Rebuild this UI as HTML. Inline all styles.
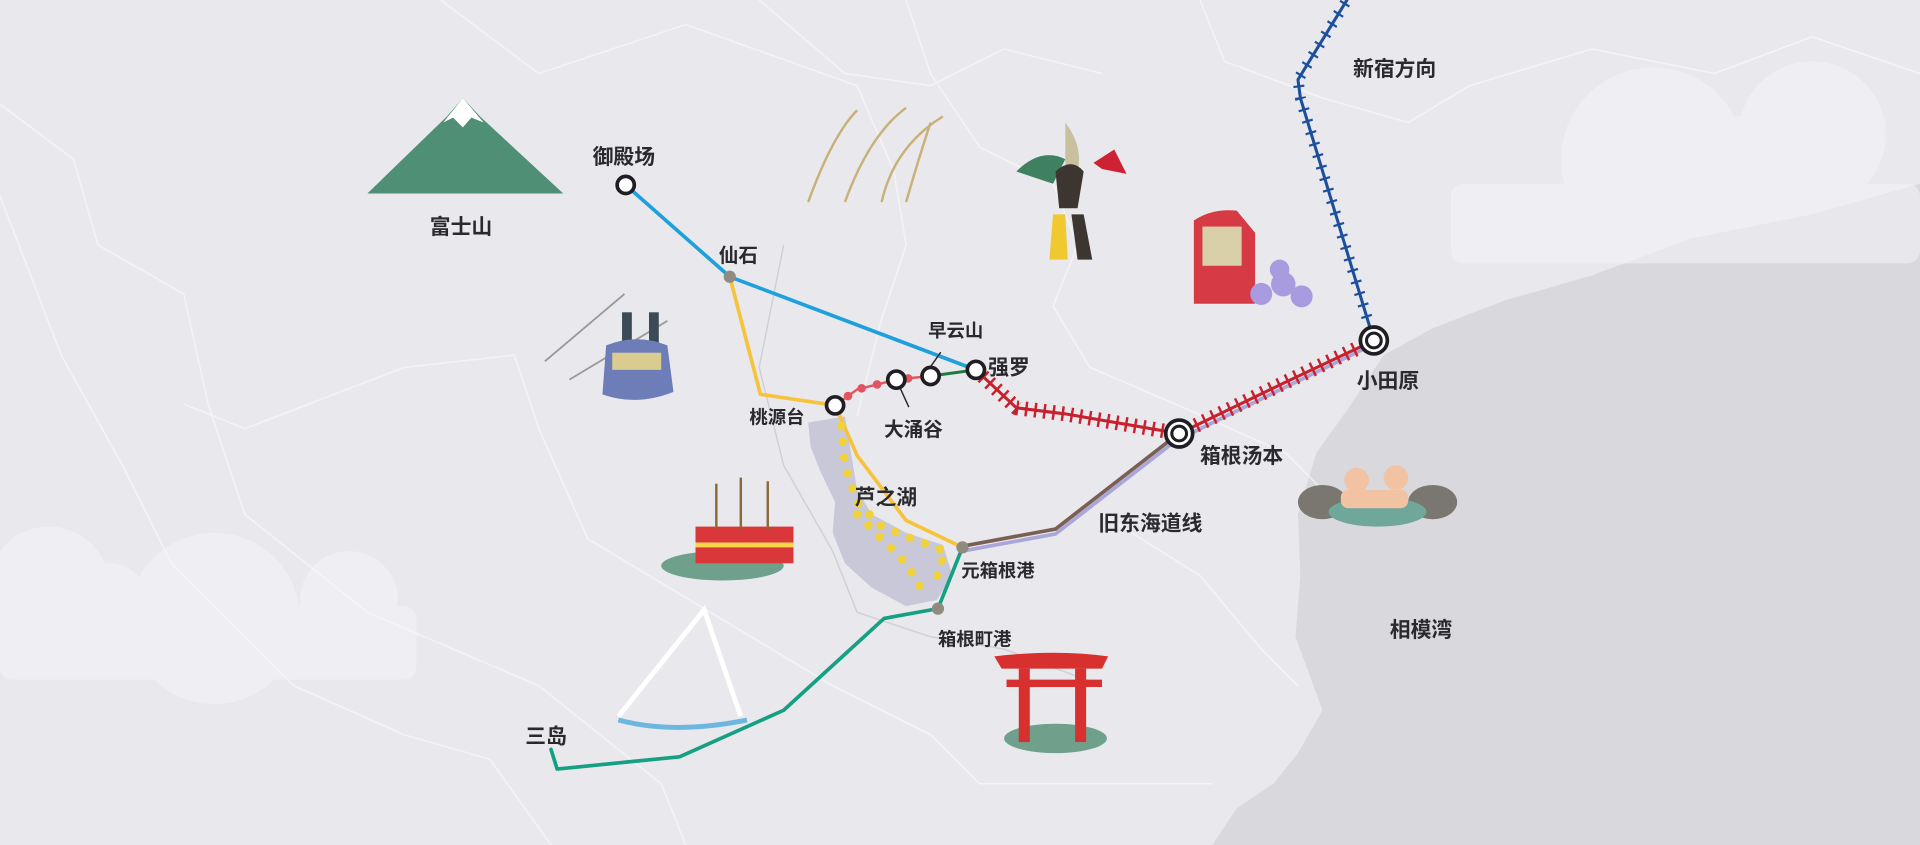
<!DOCTYPE html>
<html><head><meta charset="utf-8"><style>
html,body{margin:0;padding:0;background:#e8e8ec;}
svg{display:block}
text{font-family:"Liberation Sans","Noto Sans CJK SC",sans-serif;fill:#2a2a2e;font-weight:bold}
</style></head><body>
<svg width="1920" height="845" viewBox="0 0 1568 690" xmlns="http://www.w3.org/2000/svg">
<rect width="1568" height="690" fill="#e9e9ed"/>
<!-- sea -->
<path d="M1568,150 L1480,175 1380,195 1300,225 1230,245 1170,268 1130,290 1100,335 1075,370 1060,420 1062,470 1058,520 1080,580 1060,615 1040,640 1010,660 990,690 1568,690Z" fill="#d8d8dd"/>
<!-- clouds -->
<g fill="#f4f4f7" opacity="0.6">
<circle cx="1350" cy="130" r="75"/><circle cx="1480" cy="110" r="60"/><circle cx="1420" cy="130" r="35"/><rect x="1185" y="150" width="383" height="65" rx="10"/>
<circle cx="175" cy="505" r="70"/><circle cx="40" cy="480" r="50"/><circle cx="90" cy="490" r="30"/><circle cx="285" cy="490" r="40"/><rect x="0" y="495" width="340" height="60" rx="10"/>
</g>
<!-- roads -->
<g fill="none" stroke="#f8f8fa" stroke-width="1.3" opacity="0.7" stroke-linejoin="round">
<path d="M0,85 60,130 80,200 150,240 170,330 200,420 300,500 440,560 540,640 560,690"/>
<path d="M0,160 50,290 100,380 140,460 200,520 240,560 330,600 400,620 450,690"/>
<path d="M360,0 440,60 560,20 700,70 730,140 740,200 720,260 700,340"/>
<path d="M740,0 760,60 800,120 860,150 880,200 860,250 890,300 960,330 1050,370 1100,420"/>
<path d="M150,330 200,350 330,300 420,290 440,350 480,440 580,500 680,560 760,600 800,640 990,640"/>
<path d="M980,0 1000,50 1080,80 1150,100 1200,70 1300,40 1400,60 1480,30 1568,60"/>
<path d="M620,0 690,60 760,70 820,40 900,60"/>
<path d="M900,420 980,470 1030,530 1060,560"/>
</g>
<path d="M640,200 620,300 640,380 680,450 700,500 760,520 820,530 900,560" fill="none" stroke="#cfcfd6" stroke-width="1.2"/>
<!-- lake -->
<path d="M660,345 690,340 695,370 700,400 712,420 740,435 770,445 778,470 765,490 740,495 712,480 690,460 680,435 682,410 670,385 662,365Z" fill="#c9c8d9"/>
<!-- lines -->
<g fill="none" stroke-linecap="round" stroke-linejoin="round">
<path d="M511,151 596,226 797,302" stroke="#1ea0dc" stroke-width="3"/>
<path d="M596,226 621,322 682,331" stroke="#f6c33c" stroke-width="3"/>
<path d="M682,331 700,372 740,425 786,447" stroke="#f6c33c" stroke-width="3"/>
<path d="M786,450 862,436 960,360 1050,316 1122,281" stroke="#aaa6d8" stroke-width="3"/>
<path d="M786,446 862,432 960,356" stroke="#7a5f55" stroke-width="3"/>
<path d="M766,497 786,447" stroke="#16a083" stroke-width="3"/>
<path d="M766,497 722,505 640,580 555,618 455,628 450,612" stroke="#16a083" stroke-width="3"/>
<path d="M682,331 700,318 732,310 760,307" stroke="#e05560" stroke-width="2"/>
<path d="M682,331 700,318 732,310 760,307" stroke="#e05560" stroke-width="7" stroke-dasharray="0 13"/>
<path d="M760,307 797,302" stroke="#1f7a3d" stroke-width="2.5"/>
<path d="M797,302 830,333 870,338 963,354 1050,312 1122,278" stroke="#c8202c" stroke-width="2.5"/>
<path d="M797,302 830,333 870,338 963,354 1050,312 1122,278" stroke="#c8202c" stroke-width="12" stroke-dasharray="2 5.5" stroke-linecap="butt"/>
<path d="M1122,278 1062,80 1060,65 1100,0" stroke="#1c4f9c" stroke-width="2.5"/>
<path d="M1122,278 1062,80 1060,65 1100,0" stroke="#1c4f9c" stroke-width="9" stroke-dasharray="1.8 8" stroke-linecap="butt"/>
<path d="M687,348 690,380 700,410 720,430 745,440 772,450 762,480" stroke="#f0d23c" stroke-width="7" stroke-dasharray="0 13"/>
<path d="M700,420 720,440 740,460 755,485" stroke="#f0d23c" stroke-width="7" stroke-dasharray="0 13"/>
<path d="M732,310 742,332 M768,288 756,305" stroke="#2a2a2e" stroke-width="1.2"/>
</g>
<!-- stations -->
<g stroke="#1e1e24" fill="#fff">
<circle cx="511" cy="151" r="7" stroke-width="3"/>
<circle cx="682" cy="331" r="7" stroke-width="3"/>
<circle cx="732" cy="310" r="7" stroke-width="3"/>
<circle cx="760" cy="307" r="7" stroke-width="3"/>
<circle cx="797" cy="302" r="7" stroke-width="3"/>
<circle cx="963" cy="354" r="11" stroke-width="3"/><circle cx="963" cy="354" r="6" stroke-width="2.5"/>
<circle cx="1122" cy="278" r="11" stroke-width="3"/><circle cx="1122" cy="278" r="6" stroke-width="2.5"/>
</g>
<g fill="#8f8b80"><circle cx="596" cy="226" r="5"/><circle cx="786" cy="447" r="5"/><circle cx="766" cy="497" r="5"/></g>
<!-- illustrations -->
<path d="M300,158 365,95 378,80 392,95 460,158Z" fill="#4e8f76"/>
<path d="M362,100 378,80 395,100 385,96 378,104 370,96Z" fill="#fff"/>
<line x1="445" y1="295" x2="510" y2="240" stroke="#999" stroke-width="1.5"/>
<line x1="465" y1="310" x2="545" y2="262" stroke="#999" stroke-width="1.5"/>
<rect x="508" y="255" width="8" height="30" fill="#3b4a55"/><rect x="530" y="255" width="8" height="30" fill="#3b4a55"/>
<path d="M495,282 Q520,272 545,282 L550,320 Q520,332 492,322Z" fill="#6d7db8"/>
<rect x="500" y="288" width="40" height="14" fill="#d9cc8e"/>
<ellipse cx="590" cy="462" rx="50" ry="12" fill="#6ea08c"/>
<rect x="568" y="430" width="80" height="30" fill="#d9373a"/><rect x="568" y="443" width="80" height="4" fill="#f6d64a"/>
<g stroke="#8a6a3a" stroke-width="2"><line x1="585" y1="395" x2="585" y2="432"/><line x1="605" y1="390" x2="605" y2="432"/><line x1="627" y1="393" x2="627" y2="432"/></g>
<g stroke="#c9b07a" stroke-width="2" fill="none"><path d="M660,165 Q680,110 700,90"/><path d="M690,165 Q710,110 740,88"/><path d="M720,165 Q730,120 770,95"/><path d="M740,165 Q750,130 760,100"/></g>
<path d="M870,100 Q885,120 880,140 L870,140Z" fill="#c9c0a0"/>
<path d="M830,140 Q850,120 870,130 L860,150Z" fill="#3f8060"/>
<path d="M862,140 Q875,128 885,140 L880,170 L865,170Z" fill="#3d3530"/>
<path d="M860,175 L870,175 L872,212 L857,212Z" fill="#f0c830"/>
<path d="M875,175 L885,175 L892,212 L880,212Z" fill="#3d3530"/>
<path d="M893,133 L910,122 L920,142 L900,138Z" fill="#c23"/>
<path d="M975,180 Q990,170 1010,172 L1025,190 L1025,248 L975,248Z" fill="#d63a44"/>
<rect x="982" y="185" width="32" height="32" fill="#d9cfa8"/>
<g fill="#a89be0"><circle cx="1030" cy="240" r="9"/><circle cx="1048" cy="232" r="10"/><circle cx="1063" cy="242" r="9"/><circle cx="1045" cy="220" r="8"/></g>
<g fill="#7a7670"><ellipse cx="1080" cy="410" rx="20" ry="14"/><ellipse cx="1170" cy="410" rx="20" ry="14"/></g>
<ellipse cx="1125" cy="418" rx="40" ry="12" fill="#6fa79a"/>
<circle cx="1108" cy="392" r="10" fill="#f1c3a3"/><circle cx="1140" cy="390" r="10" fill="#f1c3a3"/>
<rect x="1095" y="400" width="55" height="15" rx="6" fill="#f1c3a3"/>
<path d="M505,585 L575,498 L605,585" fill="none" stroke="#fff" stroke-width="4"/>
<path d="M505,588 Q550,600 610,588" fill="none" stroke="#6cb6e0" stroke-width="4"/>
<ellipse cx="862" cy="603" rx="42" ry="12" fill="#6ea08c"/>
<path d="M812,536 Q862,530 905,536 L900,546 L818,546Z" fill="#d8302e"/>
<rect x="822" y="555" width="78" height="6" fill="#d8302e"/>
<rect x="832" y="546" width="9" height="60" fill="#d8302e"/><rect x="878" y="546" width="9" height="60" fill="#d8302e"/>
<!-- labels -->
<g font-size="17">
<text x="484" y="134">御殿场</text>
<text x="351" y="191">富士山</text>
<text x="587" y="214" font-size="16">仙石</text>
<text x="612" y="346" font-size="15">桃源台</text>
<text x="722" y="356" font-size="16">大涌谷</text>
<text x="758" y="275" font-size="15">早云山</text>
<text x="807" y="306">强罗</text>
<text x="698" y="412">芦之湖</text>
<text x="785" y="471" font-size="15">元箱根港</text>
<text x="766" y="527" font-size="15">箱根町港</text>
<text x="429" y="607">三岛</text>
<text x="897" y="433">旧东海道线</text>
<text x="980" y="378">箱根汤本</text>
<text x="1108" y="317">小田原</text>
<text x="1105" y="62">新宿方向</text>
<text x="1135" y="520">相模湾</text>
</g>
</svg>
</body></html>
